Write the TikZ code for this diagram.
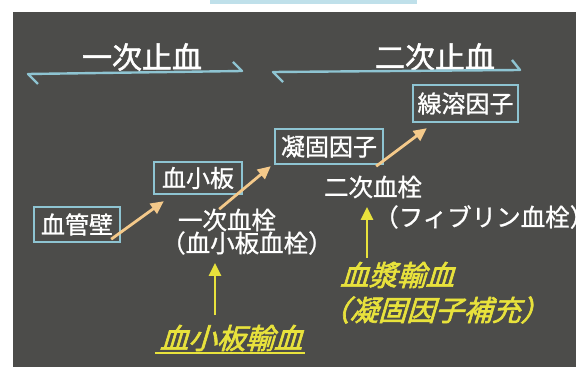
\documentclass[tikz,border=0pt]{standalone}
\usepackage{fontspec}
\usetikzlibrary{arrows.meta}
\newfontfamily\jp[FakeBold=1.0]{Noto Sans CJK JP}
\newfontfamily\jph[FakeBold=1.6]{Noto Sans CJK JP}
\newfontfamily\jpy[FakeSlant=0.3,FakeBold=2.2]{Noto Sans CJK JP}
\definecolor{panelgray}{HTML}{4C4C4A}
\definecolor{boxblue}{HTML}{8EC4D2}
\definecolor{topbar}{HTML}{BFE0EA}
\definecolor{arrorange}{HTML}{F4C98A}
\definecolor{yel}{HTML}{E8E23C}
\tikzset{
  x=1pt, y=-1pt,
  termbox/.style={draw=boxblue, line width=2.4pt, text=white, font=\jp\fontsize{24}{24}\selectfont, inner sep=0pt, minimum width=#1},
  wtext/.style={text=white, font=\jp\fontsize{24.5}{24.5}\selectfont, inner sep=0pt},
  htext/.style={text=white, font=\jph\fontsize{30}{30}\selectfont, inner sep=0pt},
  ytext/.style={text=yel, font=\jpy\fontsize{28.5}{28.5}\selectfont, inner sep=0pt},
  flowarrow/.style={draw=arrorange, line width=2.8pt, -{Triangle[length=13pt,width=12pt]}},
  yarrow/.style={draw=yel, line width=2.6pt, -{Triangle[length=13pt,width=12pt]}},
  bracket/.style={draw=boxblue, line width=2.4pt, line join=round},
}
\begin{document}
\begin{tikzpicture}
\useasboundingbox (0,0) rectangle (584,374);
\fill[white] (0,0) rectangle (584,374);
\fill[topbar] (210,0) rectangle (417,4);
\fill[panelgray] (13,12) rectangle (576,367);
\begin{scope}
\clip (13,12) rectangle (576,367);
% headings
\node[htext] (h1) at (142,57) {一次止血};
\node[htext] (h2) at (435,57) {二次止血};
\draw[bracket] (38,84) -- (28,74) -- (242,71) -- (233,62);
\draw[bracket] (283,82) -- (273,72) -- (520,70) -- (512,60);
% boxes
\node[termbox=86pt, minimum height=35pt] (kekan) at (77,224.5) {血管壁};
\node[termbox=88pt, minimum height=32pt] (kesho) at (198,178) {血小板};
\node[termbox=108pt, minimum height=35pt] (gyo) at (329,146.5) {凝固因子};
\node[termbox=105pt, minimum height=37pt] (sen) at (465.5,103.5) {線溶因子};
% texts
\node[wtext] (t1) at (227,220) {一次血栓};
\node[wtext, anchor=west] (t2) at (161,243) {（血小板血栓）};
\node[wtext] (t3) at (373,187) {二次血栓};
\node[wtext, anchor=west] (t4) at (374,217) {（フィブリン血栓）};
\node[ytext] (y1) at (231,338) {血小板輸血};
\coordinate (u1) at (155,353);
\coordinate (u2) at (305,353);
\draw[yel, line width=1.6pt] (u1) -- (u2);
\node[ytext] (y2) at (397,275) {血漿輸血};
\node[ytext] (y3) at (435,310) {（凝固因子補充）};
% arrows
\draw[flowarrow] ([shift={(-10,-4)}]kekan.south east) -- ([shift={(11,6)}]kesho.south west);
\draw[flowarrow] ([shift={(-24,14)}]kesho.south east) -- ([shift={(-3,1)}]gyo.south west);
\draw[flowarrow] ([shift={(-8,1)}]gyo.south east) -- ([shift={(15,5)}]sen.south west);
\coordinate (ya1) at (215,315);
\coordinate (ya2) at (215,263);
\draw[yarrow] (ya1) -- (ya2);
\coordinate (yb1) at (367,258);
\coordinate (yb2) at (367,207);
\draw[yarrow] (yb1) -- (yb2);
\end{scope}
\end{tikzpicture}
\end{document}
